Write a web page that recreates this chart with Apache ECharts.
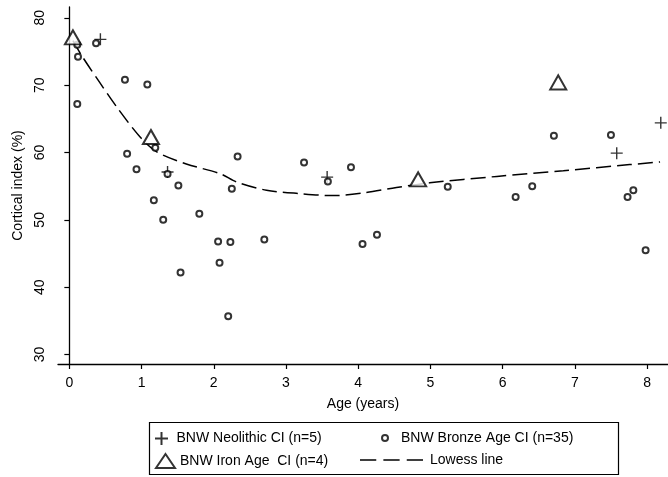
<!DOCTYPE html>
<html><head><meta charset="utf-8">
<script src="https://cdn.jsdelivr.net/npm/echarts@6/dist/echarts.min.js"></script>
<style>html,body{margin:0;padding:0;background:#fff}#c{width:668px;height:477px}</style>
</head><body><div id="c"></div>
<script>
const xTicks = [0,1,2,3,4,5,6,7,8];
const yTicks = [30,40,50,60,70,80];

const neolithicX = [0.43, 1.36, 3.57, 7.58, 8.19];
const neolithicY = [76.8, 57.1, 56.35, 59.9, 64.4];

const bronzeX = [0.11,0.12,0.11,0.37,0.77,1.08,0.80,0.93,1.19,1.36,1.51,2.33,2.25,3.25,3.58,1.17,1.30,1.80,2.06,2.23,2.08,1.54,2.20,2.70,3.90,5.24,6.71,7.50,6.18,6.41,7.73,7.81,4.06,4.26,7.98];
const bronzeY = [76.0,74.2,67.2,76.2,70.8,70.1,59.8,57.5,60.7,56.8,55.1,59.4,54.6,58.5,55.7,52.9,50.0,50.9,46.8,46.7,43.65,42.2,35.7,47.1,57.8,54.9,62.5,62.6,53.4,55.0,53.4,54.4,46.4,47.8,45.5];

const ironX = [0.05, 1.13, 4.83, 6.77];
const ironY = [77.1, 62.3, 56.0, 70.4];

const lowessX = [0.05,0.17,0.42,0.66,0.98,1.21,1.62,2.09,2.32,2.73,3.19,3.65,4.07,4.53,4.99,5.92,6.84,7.76,8.18];
const lowessY = [76.6,74.4,70.4,66.7,62.3,60.1,58.3,56.85,55.6,54.4,53.9,53.6,54.0,54.8,55.5,56.45,57.3,58.2,58.6];

const zip = (a,b) => a.map((v,i)=>[v,b[i]]);
const FONT = 'Liberation Sans, Arial, Helvetica, sans-serif';
const plusPath = 'path://M0,6L12,6M6,0L6,12';
const dashIcon = 'path://M0,0H16V1.6H0Z M23,0H39V1.6H23Z M46,0H62V1.6H46Z';
const FS = 14;
const legText = {fontSize:FS, color:'#000', fontFamily:FONT};

const chart = echarts.init(document.getElementById('c'), null, {renderer:'canvas'});
chart.setOption({
  animation:false,
  backgroundColor:'#fff',
  textStyle:{fontFamily:FONT},
  grid:{left:58, right:0, top:7, bottom:113},
  xAxis:{
    type:'value', min:-0.157, max:8.29,
    name:'Age (years)', nameLocation:'middle', nameGap:33,
    nameTextStyle:{fontSize:FS, color:'#000', fontFamily:FONT},
    axisLine:{show:true, lineStyle:{color:'#000', width:1.3}},
    axisTick:{show:true, length:5, lineStyle:{color:'#000', width:1.2}, customValues:xTicks},
    axisLabel:{fontSize:FS, color:'#000', margin:12, customValues:xTicks, fontFamily:FONT},
    splitLine:{show:false}
  },
  yAxis:{
    type:'value', min:28.6, max:81.6,
    name:'Cortical index (%)', nameLocation:'middle', nameGap:33,
    nameTextStyle:{fontSize:FS, color:'#000', fontFamily:FONT},
    axisLine:{show:true, lineStyle:{color:'#000', width:1.3}},
    axisTick:{show:true, length:5, lineStyle:{color:'#000', width:1.2}, customValues:yTicks},
    axisLabel:{fontSize:FS, color:'#000', margin:11, rotate:90, customValues:yTicks, fontFamily:FONT},
    splitLine:{show:false}
  },
  graphic:[{type:'rect', left:147, top:420, shape:{width:469, height:52}, style:{fill:'none', stroke:'#000', lineWidth:1.2}, z:-1}],
  legend:[
    {data:[{name:'BNW Neolithic CI (n=5)', icon:plusPath}], left:149, top:426, itemWidth:20, itemHeight:13,
     textStyle:legText},
    {data:[{name:'BNW Iron Age  CI (n=4)', icon:'emptyTriangle'}], left:150, top:448, itemWidth:19, itemHeight:14,
     textStyle:legText},
    {data:[{name:'BNW Bronze Age CI (n=35)', icon:'emptyCircle'}], left:376, top:426, itemWidth:18, itemHeight:6,
     textStyle:Object.assign({}, legText, {padding:[0,0,0,2]})},
    {data:[{name:'Lowess line', icon:dashIcon}], left:355, top:448, itemWidth:63, itemHeight:13,
     itemStyle:{color:'#000', borderWidth:0},
     textStyle:Object.assign({}, legText, {padding:[0,0,0,2]})}
  ],
  series:[
    {name:'BNW Neolithic CI (n=5)', type:'scatter', symbol:plusPath, symbolSize:12,
     itemStyle:{color:'rgba(0,0,0,0)', borderColor:'#000', borderWidth:1.4}, data:zip(neolithicX, neolithicY), z:3},
    {name:'BNW Bronze Age CI (n=35)', type:'scatter', symbol:'emptyCircle', symbolSize:6,
     itemStyle:{color:'#000', borderColor:'#000', borderWidth:1.3}, data:zip(bronzeX, bronzeY), z:3},
    {name:'BNW Iron Age  CI (n=4)', type:'scatter', symbol:'emptyTriangle', symbolSize:[16,14],
     itemStyle:{color:'#000', borderColor:'#000', borderWidth:1.4}, data:zip(ironX, ironY), z:4},
    {name:'Lowess line', type:'line', showSymbol:false, symbol:'none', smooth:0.3,
     lineStyle:{color:'#000', width:1.5, type:[15,6]}, itemStyle:{color:'#000'},
     data:zip(lowessX, lowessY), z:2}
  ]
});
</script></body></html>
